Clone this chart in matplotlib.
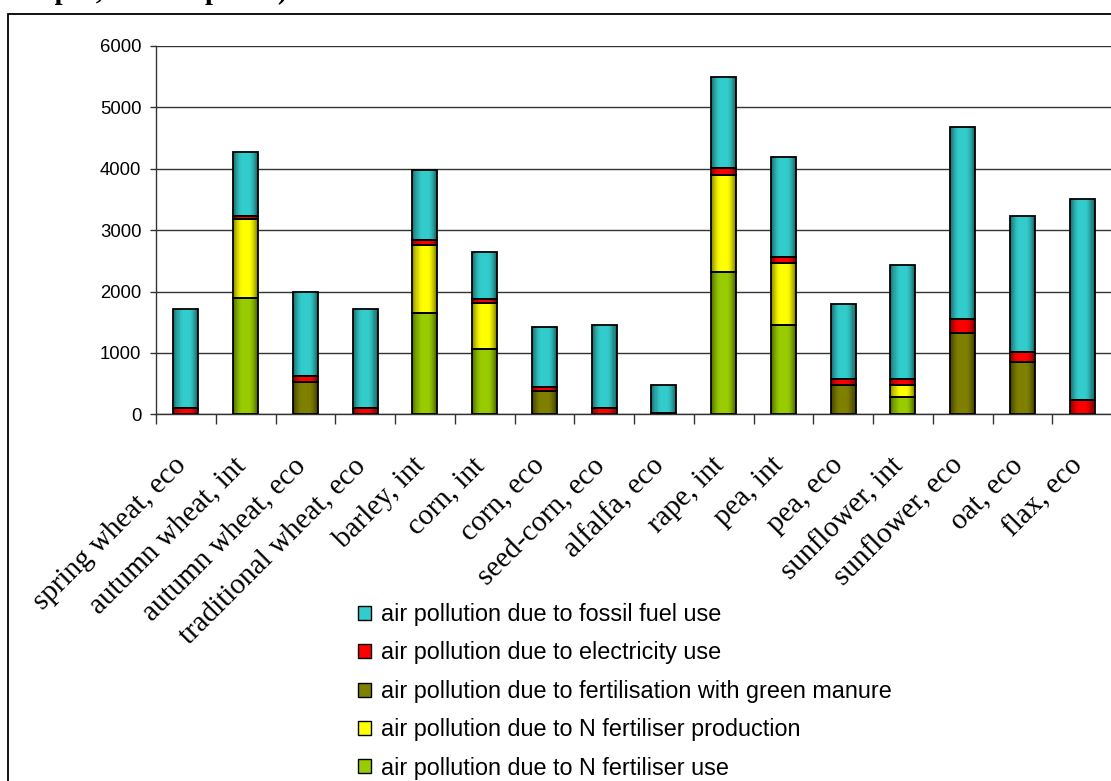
import numpy as np
import matplotlib
matplotlib.use("Agg")
import matplotlib.pyplot as plt
from matplotlib.patches import Patch, Rectangle
from matplotlib import transforms
from matplotlib.colors import to_rgb

categories = ["spring wheat, eco", "autumn wheat, int", "autumn wheat, eco",
              "traditional wheat, eco", "barley, int", "corn, int", "corn, eco",
              "seed-corn, eco", "alfalfa, eco", "rape, int", "pea, int", "pea, eco",
              "sunflower, int", "sunflower, eco", "oat, eco", "flax, eco"]

n_fert_use = [0, 1900, 0, 0, 1645, 1070, 0, 0, 0, 2320, 1450, 0, 280, 0, 0, 0]
n_fert_prod = [0, 1280, 0, 0, 1115, 740, 0, 0, 0, 1580, 1010, 0, 190, 0, 0, 0]
green_manure = [0, 0, 520, 0, 0, 0, 375, 0, 0, 0, 0, 470, 0, 1320, 845, 0]
electricity = [100, 55, 100, 100, 75, 65, 75, 100, 25, 105, 100, 105, 105, 230, 175, 230]
fossil_fuel = [1620, 1040, 1370, 1615, 1145, 765, 975, 1350, 450, 1495, 1630, 1215, 1860, 3125, 2215, 3275]

series = [
    ("air pollution due to N fertiliser use", n_fert_use, "#99CC00"),
    ("air pollution due to N fertiliser production", n_fert_prod, "#FFFF00"),
    ("air pollution due to fertilisation with green manure", green_manure, "#808000"),
    ("air pollution due to electricity use", electricity, "#FF0000"),
    ("air pollution due to fossil fuel use", fossil_fuel, "#33CCCC"),
]

W, H = 1111, 781
fig = plt.figure(figsize=(W / 100, H / 100), dpi=100)
fig.patch.set_facecolor("white")

# outer chart-area frame (continues past the right and bottom edges)
fig.patches.append(Rectangle((8 / W, -0.2), 1.2, 1.2 - 14 / H,
                             transform=fig.transFigure, fill=False,
                             edgecolor="black", lw=1.3, zorder=0))

# partially visible chart title
fig.text(287 / W, 1 + 1 / H, "output, at local prices)", ha="right", va="baseline",
         fontsize=20.5, fontweight="bold", family="Liberation Serif")

ax = fig.add_axes([156 / W, 1 - 414.3 / H, (1112 - 156) / W, (414.3 - 46) / H])

x = np.arange(len(categories))
bar_w = 0.42


def shade(t):
    # horizontal cylinder-like brightness profile across a bar
    f = np.ones_like(t)
    left = t < 0.42
    right = t > 0.6
    f[left] = 0.5 + 0.5 * np.sin(t[left] / 0.42 * np.pi / 2)
    f[right] = 0.45 + 0.55 * np.cos((t[right] - 0.6) / 0.4 * np.pi / 2)
    return f


n_strips = 24
edges = np.linspace(0, 1, n_strips + 1)
mids = (edges[:-1] + edges[1:]) / 2
prof = shade(mids)
strip_w = bar_w / n_strips

bottom = np.zeros(len(categories))
for label, vals, col in series:
    vals = np.asarray(vals, dtype=float)
    base = np.array(to_rgb(col))
    shown = vals > 0
    # shaded strips making up each bar segment
    for m, f in zip(mids, prof):
        ax.bar(x[shown] - bar_w / 2 + m * bar_w, vals[shown], strip_w * 1.08,
               bottom=bottom[shown], color=tuple(np.clip(base * f, 0, 1)),
               linewidth=0, zorder=3)
    # segment outlines
    ax.bar(x[shown], vals[shown], bar_w, bottom=bottom[shown], fill=False,
           edgecolor="black", linewidth=1.3, zorder=4)
    bottom += vals

ax.set_xlim(-0.5, len(categories) - 0.5)
ax.set_ylim(0, 6000)
ax.set_yticks(np.arange(0, 6001, 1000))
ax.set_xticks(np.arange(-0.5, len(categories), 1.0))
ax.set_xticklabels([])
ax.tick_params(axis="x", length=7, width=1, color="#333333", direction="out")
ax.tick_params(axis="y", length=4.5, width=1, color="#333333", direction="out", pad=6,
               labelsize=13.3)
for lab in ax.get_yticklabels():
    lab.set_family("Liberation Sans")
ax.yaxis.grid(True, color="#333333", lw=1.0, zorder=1)
ax.set_axisbelow(True)
for s in ("top", "right"):
    ax.spines[s].set_visible(False)
for s in ("left", "bottom"):
    ax.spines[s].set_color("#333333")
    ax.spines[s].set_linewidth(1.0)

# rotated category labels
lab_tr = transforms.blended_transform_factory(ax.transData, ax.transAxes)
for xi, name in zip(x, categories):
    ax.text(xi + 0.02, -52.3 / 368.3, name, transform=lab_tr, rotation=45,
            rotation_mode="anchor", ha="right", va="baseline", fontsize=21,
            family="Liberation Serif", clip_on=False)

handles = [Patch(facecolor=c, edgecolor="black", lw=1.0, label=l) for l, _, c in series[::-1]]
fig.legend(handles=handles, loc="upper left", bbox_to_anchor=(358 / W, 1 - 603 / H),
           frameon=False, prop={"family": "Liberation Sans", "size": 16.8},
           handlelength=0.55, handleheight=0.55, handletextpad=0.45, labelspacing=0.66,
           borderpad=0, borderaxespad=0)

fig.savefig("out.png", dpi=100, facecolor="white")
